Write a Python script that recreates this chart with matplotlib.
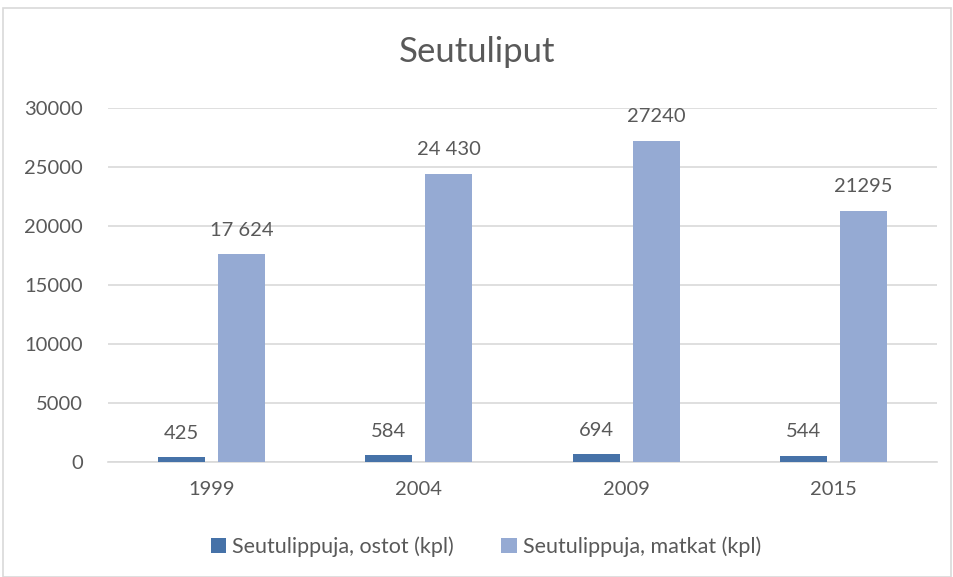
import matplotlib
matplotlib.use("Agg")
import matplotlib.pyplot as plt
import numpy as np
from matplotlib.patches import Rectangle

plt.rcParams['font.family'] = ['Lato', 'DejaVu Sans']

years = ["1999", "2004", "2009", "2015"]
ostot = [425, 584, 694, 544]
matkat = [17624, 24430, 27240, 21295]
ostot_labels = ["425", "584", "694", "544"]
matkat_labels = ["17 624", "24 430", "27240", "21295"]
yticks = [0, 5000, 10000, 15000, 20000, 25000, 30000]

c_dark = "#4672A8"
c_light = "#95AAD3"
txt = "#595959"

fig = plt.figure(figsize=(9.54, 5.77), dpi=100)
fig.patches.append(Rectangle((3/954, 0), 948/954, 1 - 8/577, transform=fig.transFigure,
                             fill=False, edgecolor="#D9D9D9", linewidth=1.2))
ax = fig.add_axes([108/954, 1 - 462/577, 829/954, (462 - 108)/577])

x = np.arange(len(years))
w = 0.227
off = 0.145
b1 = ax.bar(x - off, ostot, w, color=c_dark, label="Seutulippuja, ostot (kpl)", zorder=3)
b2 = ax.bar(x + off, matkat, w, color=c_light, label="Seutulippuja, matkat (kpl)", zorder=3)

for rect, lab in zip(b1, ostot_labels):
    ax.annotate(lab, (rect.get_x() + rect.get_width()/2, rect.get_height()),
                xytext=(0, 11), textcoords="offset points", ha="center", va="bottom",
                fontsize=14.5, color=txt)
for rect, lab in zip(b2, matkat_labels):
    ax.annotate(lab, (rect.get_x() + rect.get_width()/2, rect.get_height()),
                xytext=(0, 11), textcoords="offset points", ha="center", va="bottom",
                fontsize=14.5, color=txt)

ax.set_xlim(-0.5, len(years) - 0.5)
ax.set_ylim(0, 30000)
ax.set_yticks(yticks)
ax.set_yticklabels([str(t) for t in yticks])
ax.set_xticks(x)
ax.set_xticklabels(years)
ax.tick_params(axis="both", length=0, labelsize=14.5, colors=txt)
ax.tick_params(axis="y", pad=18)
ax.tick_params(axis="x", pad=14)
ax.grid(axis="y", color="#D9D9D9", linewidth=1.2, zorder=0)
for s in ["top", "right", "left"]:
    ax.spines[s].set_visible(False)
ax.spines["bottom"].set_color("#D9D9D9")
ax.spines["bottom"].set_linewidth(1.2)

fig.text(0.5, 1 - 52/577, "Seutuliput", ha="center", va="center", fontsize=25, color=txt)

leg = fig.legend(handles=[b1, b2], loc="center", bbox_to_anchor=(486/954, 1 - 547/577),
                 ncol=2, frameon=False, fontsize=15.5, handlelength=0.7, handleheight=0.7,
                 columnspacing=2.2, handletextpad=0.3)
for t in leg.get_texts():
    t.set_color(txt)

fig.savefig("out.png", dpi=100)
